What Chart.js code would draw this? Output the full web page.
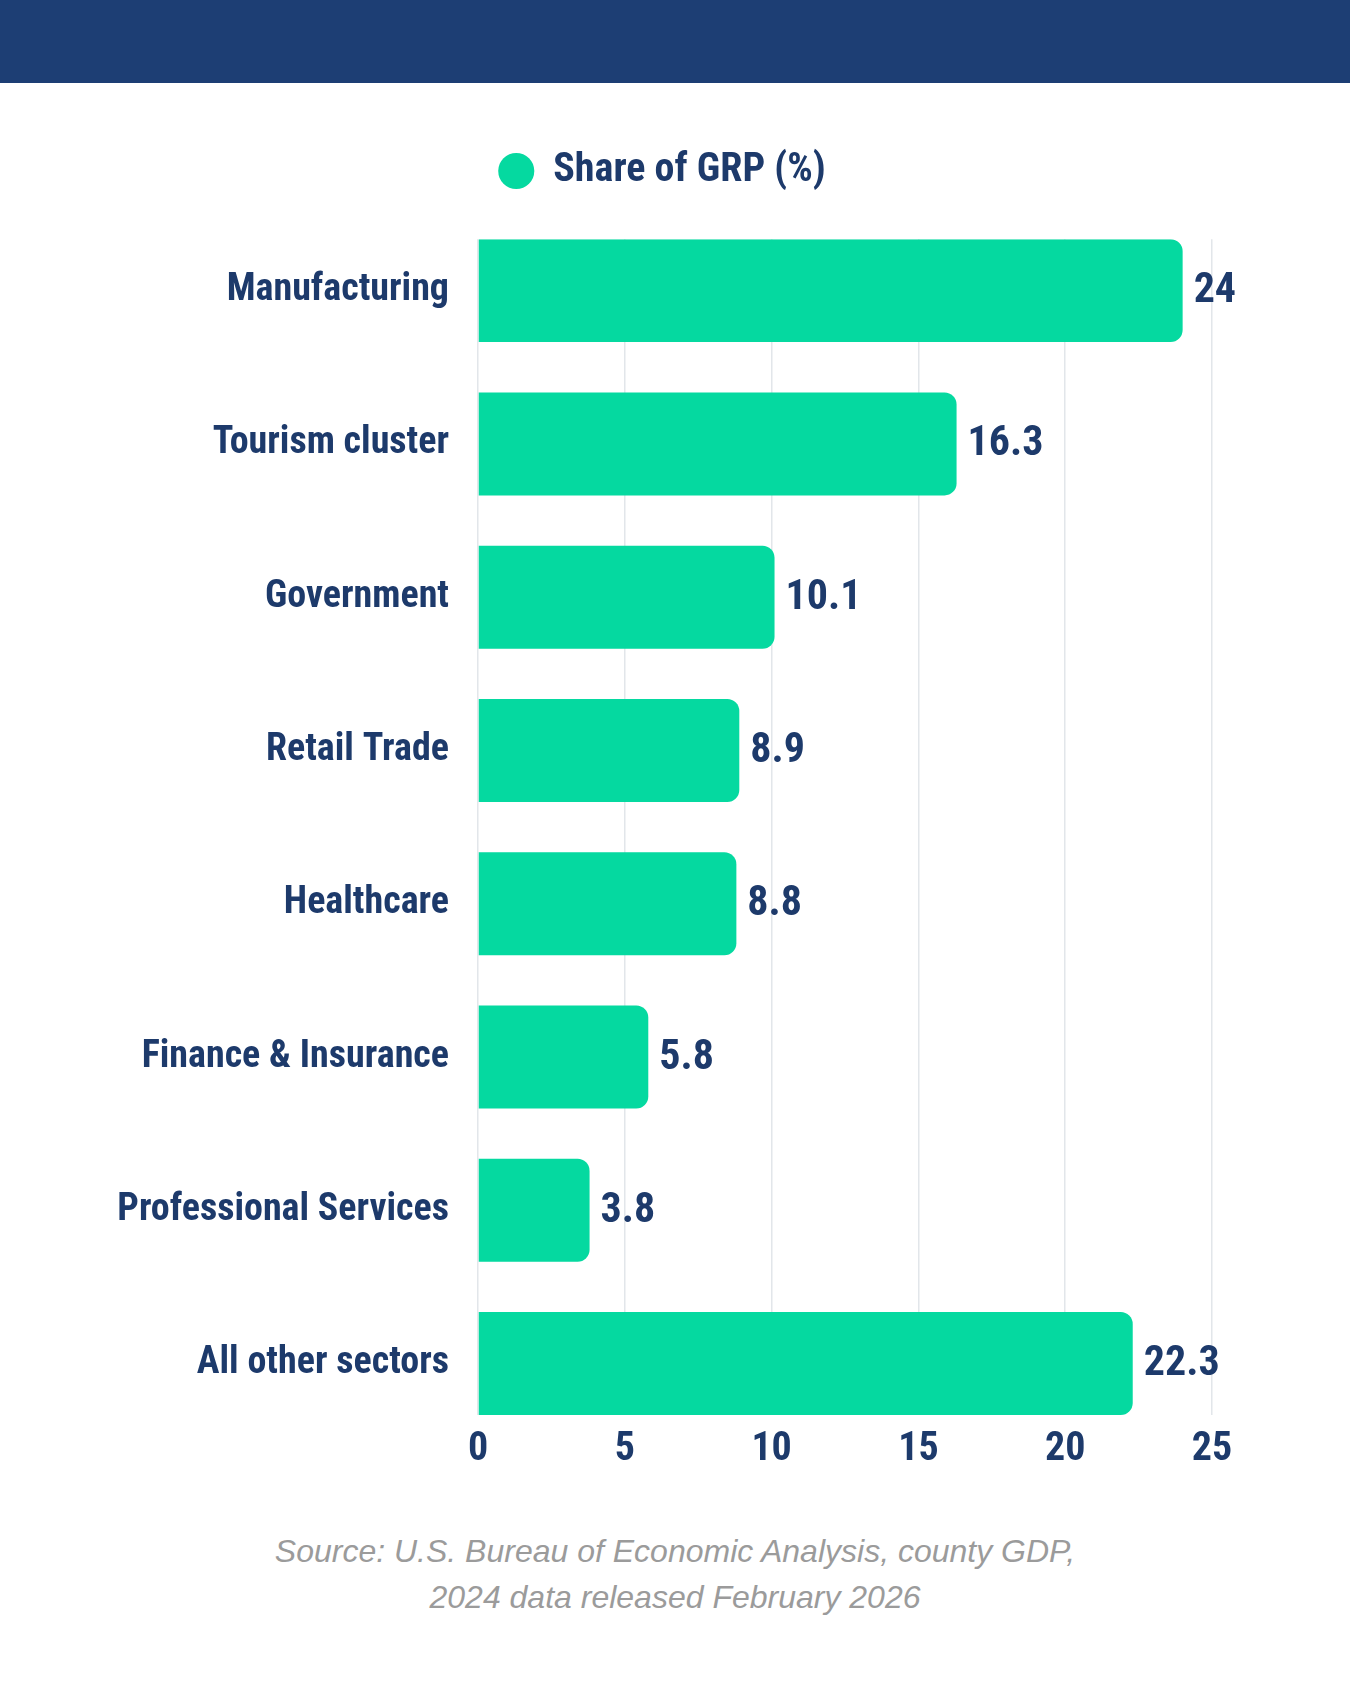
<!DOCTYPE html>
<html>
<head>
<meta charset="utf-8">
<script src="https://cdn.jsdelivr.net/npm/chart.js@4.4.1/dist/chart.umd.min.js"></script>
<style>
  html, body { margin: 0; padding: 0; background: #ffffff; }
  body { width: 1350px; height: 1688px; position: relative; overflow: hidden; }
  #header { position: absolute; left: 0; top: 0; width: 1350px; height: 83px; background: #1d3e74; }
  #wrap { position: absolute; left: 0; top: 83px; width: 1350px; height: 1420px; }
  #source { position: absolute; left: 0; top: 1528px; width: 1350px; text-align: center;
            font-family: 'Liberation Sans', Arial, sans-serif; font-style: italic; font-size: 32px;
            line-height: 46px; color: #9b9b9b; }
</style>
</head>
<body>
<div id="header"></div>
<div id="wrap"><canvas id="c"></canvas></div>
<div id="source">Source: U.S. Bureau of Economic Analysis, county GDP,<br>2024 data released February 2026</div>
<script>
const categories = ['Manufacturing', 'Tourism cluster', 'Government', 'Retail Trade', 'Healthcare', 'Finance & Insurance', 'Professional Services', 'All other sectors'];
const shareOfGRP = [24, 16.3, 10.1, 8.9, 8.8, 5.8, 3.8, 22.3];
const seriesName = 'Share of GRP (%)';
const xTicks = [0, 5, 10, 15, 20, 25];

const NAVY = '#1d3a6b';
const GREEN = '#05d9a0';
const FONT = "'Roboto Condensed', 'Liberation Sans Narrow', 'Arial Narrow', 'DejaVu Sans Condensed', sans-serif";

const valueLabels = {
  id: 'valueLabels',
  afterDatasetsDraw(chart) {
    const ctx = chart.ctx;
    const meta = chart.getDatasetMeta(0);
    ctx.save();
    ctx.font = 'bold 42px ' + FONT;
    ctx.fillStyle = NAVY;
    ctx.textAlign = 'left';
    ctx.textBaseline = 'middle';
    meta.data.forEach((bar, i) => {
      ctx.fillText(String(chart.data.datasets[0].data[i].x), bar.x + 11, bar.y + 1);
    });
    ctx.restore();
  }
};

function draw() {
  new Chart(document.getElementById('c'), {
    type: 'bar',
    data: {
      datasets: [{
        label: seriesName,
        data: shareOfGRP.map((v, i) => ({ x: v, y: i })),
        backgroundColor: GREEN,
        borderRadius: 12,
        borderSkipped: 'start',
        categoryPercentage: 1,
        barPercentage: 0.6714
      }]
    },
    options: {
      indexAxis: 'y',
      responsive: true,
      maintainAspectRatio: false,
      animation: false,
      layout: { padding: { top: 30, left: 113, right: 138, bottom: 18 } },
      plugins: {
        tooltip: { enabled: false },
        legend: {
          position: 'top',
          labels: {
            usePointStyle: true,
            pointStyle: 'circle',
            boxWidth: 34,
            boxHeight: 25.5,
            padding: 38,
            color: NAVY,
            font: { family: FONT, size: 40, weight: 'bold' }
          }
        },
        subtitle: {
          display: true,
          text: ' ',
          position: 'top',
          weight: 500,
          font: { size: 1 },
          padding: { top: 37, bottom: 0 }
        }
      },
      scales: {
        x: {
          type: 'linear',
          min: 0,
          max: 25,
          afterBuildTicks: (s) => { s.ticks = xTicks.map(v => ({ value: v })); },
          grid: { color: '#e2e6ea', lineWidth: 1.5, drawTicks: false },
          border: { display: false },
          ticks: {
            color: NAVY,
            padding: 11,
            font: { family: FONT, size: 40, weight: 'bold' }
          }
        },
        y: {
          type: 'linear',
          reverse: true,
          offset: false,
          min: -0.3357,
          max: 7.3357,
          afterBuildTicks: (s) => { s.ticks = categories.map((_, i) => ({ value: i })); },
          afterFit: (s) => { s.width = 365; },
          grid: { display: false, offset: false },
          border: { display: false },
          ticks: {
            color: NAVY,
            padding: 21,
            font: { family: FONT, size: 38, weight: 'bold' },
            callback: (v) => categories[v]
          }
        }
      }
    },
    plugins: [valueLabels]
  });
}

if (document.fonts && document.fonts.load) {
  Promise.all([
    document.fonts.load("bold 40px 'Roboto Condensed'"),
    document.fonts.load("italic 32px 'Liberation Sans'")
  ]).then(draw, draw);
} else {
  draw();
}
</script>
</body>
</html>
